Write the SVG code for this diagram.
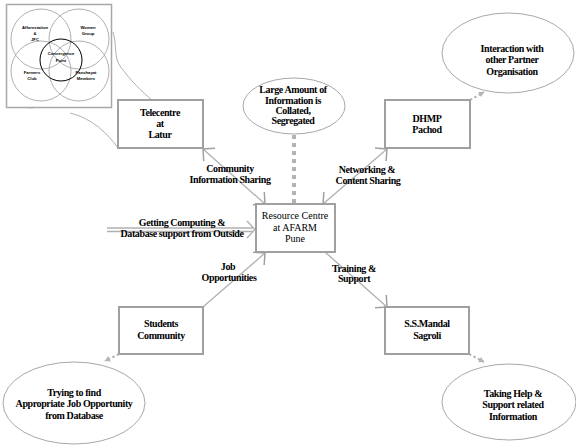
<svg xmlns="http://www.w3.org/2000/svg" width="576" height="446" viewBox="0 0 576 446">
<style>
.bg{fill:#fff}
.box{fill:#fff;stroke:#a0a0a0;stroke-width:2}
.ell{fill:#fff;stroke:#a8a8a8;stroke-width:1}
.ln{fill:none;stroke:#b0b0b0;stroke-width:1.3}
.dot{fill:none;stroke:#b4b4b4;stroke-width:2;stroke-dasharray:2.5 2.5}
.vert{fill:none;stroke:#b4b4b4;stroke-width:4;stroke-dasharray:4 4}
.vc{fill:none;stroke:#b0b0b0;stroke-width:1}
.t{font-family:'Liberation Serif','Times New Roman',Times,'DejaVu Serif',serif;font-size:10px;font-weight:bold;letter-spacing:-0.4px;text-anchor:middle;fill:#000}
.r{font-family:'Liberation Serif','Times New Roman',Times,'DejaVu Serif',serif;font-size:10px;text-anchor:middle;fill:#000}
.s{font-family:'Liberation Sans',Arial,sans-serif;font-size:4.2px;font-weight:bold;text-anchor:middle;fill:#000}
</style>
<defs>
<marker id="chev" viewBox="-10 -10 12 20" refX="0" refY="0" markerWidth="12" markerHeight="20" markerUnits="userSpaceOnUse" orient="auto-start-reverse" overflow="visible">
<path d="M-8.5,-8.5 L0,0 L-8.5,8.5" fill="none" stroke="#a0a0a0" stroke-width="1.5"/>
</marker>
<marker id="dh" viewBox="-6 -4 7 8" refX="0" refY="0" markerWidth="7" markerHeight="8" markerUnits="userSpaceOnUse" orient="auto" overflow="visible">
<path d="M-5,-3 L0,0 L-5,3 Z" fill="#b4b4b4"/>
</marker>
</defs>
<rect class="bg" x="0" y="0" width="576" height="446"/>

<g id="venn">
<path class="vc" d="M113,32 C117,45 114,58 120,66 C130,80 142,92 152,100"/>
<path class="vc" d="M20,107 L33,108"/>
<path class="vc" d="M70,113 C92,118 108,134 118,148"/>
<rect x="6.5" y="4.5" width="105" height="103" fill="#fff" stroke="#a8a8a8" stroke-width="1.5"/>
<circle class="vc" cx="41" cy="39" r="30"/>
<circle class="vc" cx="79" cy="39" r="30"/>
<circle class="vc" cx="41" cy="71" r="30"/>
<circle class="vc" cx="79" cy="71" r="30"/>
<circle cx="61" cy="60" r="21" fill="none" stroke="#000" stroke-width="1"/>
<text class="s" x="35" y="29">Afforestation</text>
<text class="s" x="35" y="35">&amp;</text>
<text class="s" x="35" y="41">JFC</text>
<text class="s" x="88" y="29">Women</text>
<text class="s" x="88" y="35">Group</text>
<text class="s" x="61" y="55">Convergence</text>
<text class="s" x="61" y="62">Point</text>
<text class="s" x="32" y="74">Farmers</text>
<text class="s" x="32" y="80">Club</text>
<text class="s" x="86" y="74">Panchayat</text>
<text class="s" x="86" y="80">Members</text>
</g>

<g id="connectors">
<line class="ln" x1="203" y1="149" x2="265" y2="204" marker-start="url(#chev)" marker-end="url(#chev)"/>
<line class="ln" x1="387" y1="149" x2="323" y2="204" marker-start="url(#chev)" marker-end="url(#chev)"/>
<line class="ln" x1="203" y1="307" x2="265" y2="253" marker-end="url(#chev)"/>
<line class="ln" x1="325" y1="252" x2="387" y2="307" marker-end="url(#chev)"/>
<line class="vert" x1="294" y1="135" x2="294" y2="204"/>
<line class="ln" x1="107" y1="228" x2="253" y2="228"/>
<line class="ln" x1="107" y1="231.5" x2="253" y2="231.5"/>
<path class="ln" d="M247,221 L255,229.5 L247,238" stroke-width="1.5"/>
<line class="dot" x1="470" y1="100" x2="484" y2="92" marker-end="url(#dh)"/>
<line class="dot" x1="119" y1="354" x2="105" y2="361" marker-end="url(#dh)"/>
<line class="dot" x1="469" y1="354" x2="484" y2="362" marker-end="url(#dh)"/>
<text class="t" x="230" y="172">Community</text>
<text class="t" x="230" y="183">Information Sharing</text>
<text class="t" x="367" y="173">Networking &amp;</text>
<text class="t" x="368" y="184">Content  Sharing</text>
<text class="t" x="182" y="226">Getting Computing &amp;</text>
<text class="t" x="182" y="237">Database support from Outside</text>
<text class="t" x="228" y="270">Job</text>
<text class="t" x="229" y="281">Opportunities</text>
<text class="t" x="354" y="272">Training &amp;</text>
<text class="t" x="354" y="282">Support</text>
</g>

<g id="telecentre">
<rect class="box" x="118" y="100" width="85" height="48"/>
<text class="t" x="160" y="116">Telecentre</text>
<text class="t" x="160" y="127">at</text>
<text class="t" x="160" y="138">Latur</text>
</g>

<g id="dhmp">
<rect class="box" x="385" y="100" width="85" height="48"/>
<text class="t" x="427" y="122">DHMP</text>
<text class="t" x="427" y="133">Pachod</text>
</g>

<g id="resource">
<rect class="box" x="256" y="204" width="79" height="48"/>
<text class="r" x="295" y="219">Resource Centre</text>
<text class="r" x="295" y="230.5">at AFARM</text>
<text class="r" x="295" y="242">Pune</text>
</g>

<g id="students">
<rect class="box" x="119" y="307" width="84" height="47"/>
<text class="t" x="161" y="327">Students</text>
<text class="t" x="161" y="339">Community</text>
</g>

<g id="ssmandal">
<rect class="box" x="385" y="307" width="84" height="47"/>
<text class="t" x="427" y="327">S.S.Mandal</text>
<text class="t" x="427" y="339">Sagroli</text>
</g>

<g id="large-amount">
<ellipse class="ell" cx="294" cy="106" rx="51" ry="28"/>
<text class="t" x="293" y="93">Large Amount of</text>
<text class="t" x="293" y="104">Information is</text>
<text class="t" x="293" y="114">Collated,</text>
<text class="t" x="293" y="124">Segregated</text>
</g>

<g id="interaction">
<ellipse class="ell" cx="508" cy="53" rx="66" ry="40"/>
<text class="t" x="512" y="52">Interaction with</text>
<text class="t" x="512" y="63">other Partner</text>
<text class="t" x="512" y="75">Organisation</text>
</g>

<g id="trying">
<ellipse class="ell" cx="74" cy="403" rx="71" ry="41"/>
<text class="t" x="74" y="396">Trying to find</text>
<text class="t" x="74" y="407">Appropriate Job Opportunity</text>
<text class="t" x="74" y="419">from Database</text>
</g>

<g id="taking">
<ellipse class="ell" cx="509" cy="402" rx="67" ry="38"/>
<text class="t" x="513" y="397">Taking Help &amp;</text>
<text class="t" x="513" y="408">Support related</text>
<text class="t" x="513" y="420">Information</text>
</g>
</svg>
